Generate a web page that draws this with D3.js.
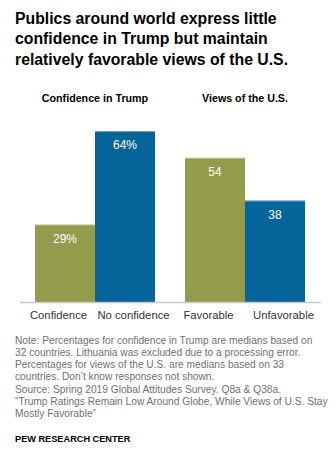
<!DOCTYPE html>
<html>
<head>
<meta charset="utf-8">
<script src="https://cdn.jsdelivr.net/npm/d3@7"></script>
<style>
  body { margin: 0; background: #fff; }
  svg { display: block; font-family: "Liberation Sans", Arial, sans-serif; }
</style>
</head>
<body>
<div id="chart"></div>
<script>
// values
let groups = ["Confidence in Trump", "Views of the U.S."];
let categories = ["Confidence", "No confidence", "Favorable", "Unfavorable"];
let groupOf = [0, 0, 1, 1];
let values = [29, 64, 54, 38];
let valueLabels = ["29%", "64%", "54", "38"];

let titleLines = ["Publics around world express little",
  "confidence in Trump but maintain",
  "relatively favorable views of the U.S."];

let noteLines = ["Note: Percentages for confidence in Trump are medians based on",
  "32 countries. Lithuania was excluded due to a processing error.",
  "Percentages for views of the U.S. are medians based on 33",
  "countries. Don\u2019t know responses not shown.",
  "Source: Spring 2019 Global Attitudes Survey. Q8a & Q38a.",
  "\u201cTrump Ratings Remain Low Around Globe, While Views of U.S. Stay",
  "Mostly Favorable\u201d"];

let width = 335, height = 457;
let green = "#949b4b", blue = "#05649a";

let svg = d3.select("#chart").append("svg")
  .attr("width", width).attr("height", height);

// title
svg.append("g").selectAll("text").data(titleLines).enter().append("text")
  .attr("x", 15)
  .attr("y", (d, i) => 23.5 + i * 20.5)
  .attr("font-size", "15.8px")
  .attr("font-weight", "bold")
  .attr("fill", "#000")
  .text(d => d);

let baseY = 302;
let y = d3.scaleLinear().domain([0, 100]).range([baseY, baseY - 267]);

let xGroup = d3.scaleBand().domain(groups).range([20, 320])
  .paddingInner(0.2).paddingOuter(0.1);
let xInner = d3.scaleBand().domain([0, 1]).range([0, xGroup.bandwidth()]);

let barX = (i) => xGroup(groups[groupOf[i]]) + xInner(i % 2);

// group headings
svg.append("g").selectAll("text").data(groups).enter().append("text")
  .attr("x", d => xGroup(d) + xGroup.bandwidth() / 2)
  .attr("y", 102)
  .attr("text-anchor", "middle")
  .attr("font-size", "10.7px")
  .attr("font-weight", "bold")
  .attr("fill", "#000")
  .text(d => d);

let bars = svg.append("g").selectAll("g").data(values).enter().append("g");

bars.append("rect")
  .attr("x", (d, i) => barX(i))
  .attr("y", d => y(d))
  .attr("width", xInner.bandwidth())
  .attr("height", d => baseY - y(d))
  .attr("fill", (d, i) => i % 2 == 0 ? green : blue);

// thin light edge on top of bars
bars.append("rect")
  .attr("x", (d, i) => barX(i))
  .attr("y", d => y(d))
  .attr("width", xInner.bandwidth())
  .attr("height", 1)
  .attr("fill", "#fff")
  .attr("opacity", 0.35);

bars.append("text")
  .attr("x", (d, i) => barX(i) + xInner.bandwidth() / 2)
  .attr("y", d => y(d) + 18)
  .attr("text-anchor", "middle")
  .attr("font-size", "12px")
  .attr("fill", "#fff")
  .text((d, i) => valueLabels[i]);

// baseline
svg.append("line")
  .attr("x1", 20).attr("x2", 321)
  .attr("y1", baseY + 0.5).attr("y2", baseY + 0.5)
  .attr("stroke", "#c8c8c8")
  .attr("stroke-width", 1.6);

// category labels, pushed a little away from the pair centre
svg.append("g").selectAll("text").data(categories).enter().append("text")
  .attr("x", (d, i) => barX(i) + xInner.bandwidth() / 2 + (i % 2 == 0 ? -6.5 : 8.5))
  .attr("y", 319)
  .attr("text-anchor", "middle")
  .attr("font-size", "11.3px")
  .attr("fill", "#333")
  .text(d => d);

// notes
svg.append("g").selectAll("text").data(noteLines).enter().append("text")
  .attr("x", 15)
  .attr("y", (d, i) => 343.5 + i * 12.33)
  .attr("font-size", "10.2px")
  .attr("fill", "#707070")
  .text(d => d);

svg.append("text")
  .attr("x", 15).attr("y", 441.8)
  .attr("font-size", "9.2px")
  .attr("font-weight", "bold")
  .attr("fill", "#000")
  .text("PEW RESEARCH CENTER");
</script>
</body>
</html>
